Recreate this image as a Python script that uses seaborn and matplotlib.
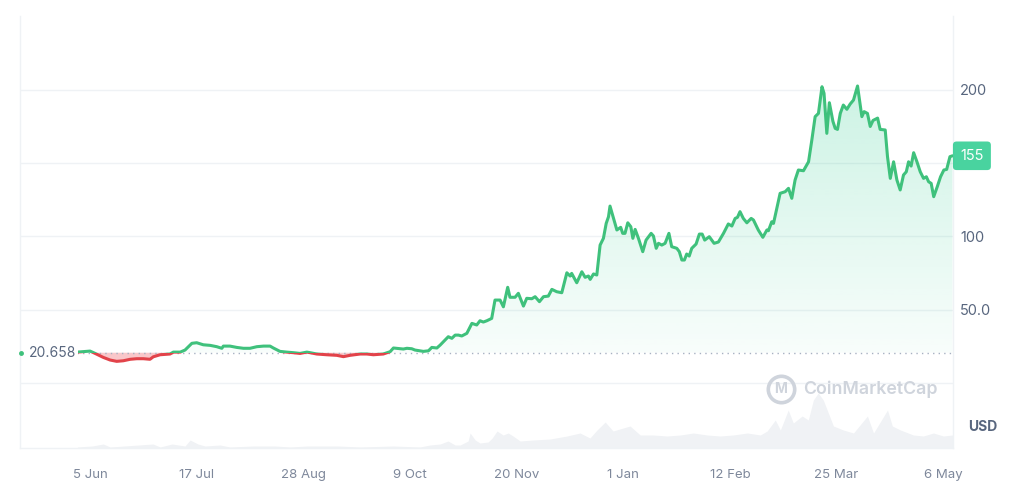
import numpy as np
import pandas as pd
import matplotlib
matplotlib.use("Agg")
import matplotlib.pyplot as plt
import matplotlib.dates as mdates
import matplotlib.transforms as mtransforms
from matplotlib.patches import Rectangle, PathPatch
import seaborn as sns

# ---------------- data ----------------
start_date = "2023-05-31"
baseline = 20.658
last_price = 155

# day offsets from start_date and prices, in four stretches
days_a = [0.0, 5.0, 7.0, 10.2, 12.9, 15.5, 18.1, 20.8, 23.4, 26.0,
          28.6, 29.9, 32.6, 36.5, 37.8, 40.5, 42.4, 45.1, 47.0, 49.6,
          52.3, 54.9, 56.9, 57.5, 60.1, 62.8, 65.4, 68.0, 70.7, 73.3,
          75.9, 77.2, 79.8, 82.5, 85.1, 87.7, 90.4, 91.7, 94.3, 98.2,
          102.2, 104.8, 107.4, 111.4, 114.0, 116.6, 120.5]
price_a = [21.1, 21.8, 20.2, 17.5, 15.7, 14.8, 15.2, 16.2, 16.6, 16.6,
           16.2, 17.9, 19.3, 19.8, 21.1, 21.1, 22.5, 27.1, 27.5, 26.1,
           25.7, 24.8, 23.7, 25.2, 25.2, 24.3, 23.7, 23.7, 24.8, 25.2,
           25.2, 23.9, 21.6, 21.1, 20.7, 20.2, 21.1, 20.7, 19.8, 19.3,
           18.9, 18.0, 18.9, 19.8, 19.8, 19.3, 19.8]

days_b = [123.2, 124.5, 128.4, 129.8, 131.7, 133.0, 135.0, 136.3, 138.3, 139.6,
          141.6, 142.9, 144.8, 146.1, 147.5, 148.8, 150.1, 151.4, 153.4, 155.4,
          157.3, 158.6, 159.9, 161.3, 163.2, 164.5, 166.5, 167.8, 169.5, 170.4,
          172.4, 173.7, 175.7, 177.0, 179.0, 180.3, 182.0, 183.6, 185.5, 186.9,
          188.8, 190.8, 192.8, 194.1, 194.7, 196.7, 198.7, 200.0, 201.3, 202.0,
          203.3, 204.6]
price_b = [21.4, 23.9, 23.2, 23.7, 23.4, 22.5, 22.0, 21.6, 22.0, 24.3,
           23.9, 25.9, 29.3, 31.6, 30.5, 32.7, 32.7, 32.1, 33.9, 40.7,
           39.6, 42.5, 41.6, 42.5, 44.1, 56.6, 56.6, 52.0, 65.3, 58.5,
           58.5, 61.2, 52.5, 57.8, 57.5, 58.9, 55.5, 58.9, 59.3, 63.9,
           62.3, 61.6, 75.2, 73.0, 74.8, 68.4, 75.9, 72.1, 73.0, 70.7,
           74.4, 73.7]

days_c = [205.9, 207.2, 208.3, 209.2, 209.8, 211.2, 212.5, 214.0, 214.8, 215.7,
          216.8, 218.0, 218.8, 219.7, 221.0, 222.7, 224.0, 226.0, 226.9, 228.0,
          228.9, 230.2, 231.5, 233.0, 234.1, 236.1, 237.1, 238.1, 239.1, 240.0,
          241.0, 242.0, 243.7, 245.0, 246.1, 247.1, 248.9, 250.8, 252.5, 254.5,
          256.4, 257.8, 259.1, 260.0, 261.0, 262.3, 263.7, 265.4, 266.3, 268.2,
          270.0, 271.6, 272.2, 273.5, 274.2, 275.5]
price_c = [94.1, 98.7, 108.9, 113.4, 120.7, 112.3, 104.4, 106.2, 102.1, 102.1,
           109.3, 106.6, 98.7, 104.8, 98.7, 89.6, 97.5, 102.1, 100.3, 91.9,
           95.3, 94.1, 95.3, 102.1, 93.0, 91.9, 89.6, 83.9, 83.9, 88.0,
           86.6, 91.9, 94.8, 101.6, 101.6, 97.5, 99.8, 95.3, 96.2, 102.1,
           108.5, 107.1, 112.3, 113.0, 116.9, 112.3, 109.3, 112.3, 111.2, 104.4,
           99.4, 104.4, 103.9, 110.0, 108.9, 119.2]

days_d = [276.8, 278.8, 280.1, 281.4, 282.7, 284.0, 286.0, 288.0, 289.3, 290.6,
          291.9, 292.6, 293.3, 294.1, 295.2, 296.2, 297.6, 298.5, 299.4, 300.5,
          301.7, 303.1, 304.4, 305.7, 307.3, 309.0, 309.9, 311.2, 312.3, 313.4,
          315.2, 316.2, 318.2, 319.1, 320.2, 321.5, 322.8, 324.1, 325.4, 326.5,
          327.4, 328.4, 329.4, 330.7, 332.0, 333.3, 334.4, 335.3, 336.3, 337.3,
          338.7, 340.0, 341.3, 342.4, 343.7, 344.7]
price_d = [129.4, 130.5, 132.8, 126.0, 138.5, 145.3, 144.8, 150.9, 165.8, 181.7,
           183.9, 193.0, 202.1, 197.6, 170.3, 191.2, 178.5, 173.7, 173.0, 183.9,
           189.6, 186.7, 190.3, 193.0, 202.6, 181.7, 185.1, 183.9, 175.0, 179.1,
           180.7, 173.0, 172.6, 154.4, 139.6, 150.9, 138.5, 131.7, 141.9, 144.1,
           150.9, 148.0, 157.1, 150.9, 144.1, 139.6, 140.7, 137.3, 136.2, 127.1,
           133.9, 140.7, 145.3, 145.7, 154.4, 155.0]

# volume (relative units)
vol_days = [0.0, 5.8, 10.2, 12.9, 29.8, 32.6, 37.3, 42.4, 44.4, 47.5,
            50.3, 56.2, 60.1, 69.2, 77.9, 83.8, 90.5, 102.7, 111.4, 124.4,
            134.9, 138.9, 142.9, 146.0, 148.8, 150.8, 153.9, 154.7, 156.7, 158.6,
            161.8, 163.4, 165.3, 167.7, 169.7, 171.6, 174.4, 179.5, 186.2, 192.9,
            198.0, 201.9, 204.7, 207.9, 211.0, 215.0, 217.7, 221.7, 226.8, 232.3,
            237.5, 242.6, 248.1, 253.2, 258.3, 263.9, 269.0, 271.7, 274.9, 276.9,
            280.0, 282.0, 285.5, 287.9, 289.9, 291.8, 293.8, 295.8, 297.8, 301.7,
            305.7, 311.2, 313.6, 319.1, 321.0, 324.2, 329.3, 333.2, 337.2, 341.1,
            344.7]
volumes = [1, 2, 4, 1, 4, 1, 4, 2, 8, 4,
           2, 3, 1, 2, 2, 1, 2, 2, 1, 2,
           1, 3, 4, 7, 3, 3, 7, 15, 8, 5,
           6, 10, 17, 13, 15, 12, 7, 8, 9, 12,
           15, 10, 18, 26, 17, 20, 22, 13, 13, 12,
           13, 15, 13, 12, 13, 15, 13, 17, 28, 18,
           38, 25, 32, 28, 48, 55, 48, 35, 22, 18,
           15, 32, 15, 38, 22, 18, 13, 12, 15, 12,
           13]

tick_dates = ["2023-06-05", "2023-07-17", "2023-08-28", "2023-10-09", "2023-11-20",
              "2024-01-01", "2024-02-12", "2024-03-25", "2024-05-06"]
tick_labels = ["5 Jun", "17 Jul", "28 Aug", "9 Oct", "20 Nov",
               "1 Jan", "12 Feb", "25 Mar", "6 May"]
y_ticks = [50, 100, 200]
y_tick_labels = ["50.0", "100", "200"]
grid_levels = [0, 50, 100, 150, 200]

# ---------------- build frame ----------------
t0 = pd.Timestamp(start_date)
days = days_a + days_b + days_c + days_d
prices = price_a + price_b + price_c + price_d
df = pd.DataFrame({"date": t0 + pd.to_timedelta(days, unit="D"), "price": prices})
vdf = pd.DataFrame({"date": t0 + pd.to_timedelta(vol_days, unit="D"), "volume": volumes})

GREEN = "#3fc17c"
RED = "#e2434a"
GRID = "#eff2f5"
TXT = "#58667e"

sns.set_theme(style="white")
plt.rcParams["font.family"] = ["Inter", "DejaVu Sans"]

fig = plt.figure(figsize=(10.24, 4.98), dpi=100)
fig.patch.set_facecolor("white")
ax = fig.add_axes([20 / 1024, 50 / 498, 933 / 1024, 431.5 / 498])
ax2 = ax.twinx()
ax.set_zorder(ax2.get_zorder() + 1)
ax.patch.set_visible(False)

x0 = mdates.date2num(t0)
xmin, xmax = x0 - 22.6, x0 + 344.9

# volume
ax2.fill_between(mdates.date2num(vdf["date"]), 0, vdf["volume"], color="#f0f2f5",
                 lw=0, zorder=1)
ax2.set_ylim(0, 431.5)
ax2.set_xlim(xmin, xmax)
ax2.set_yticks([])
for s in ax2.spines.values():
    s.set_visible(False)

# grid
for g in grid_levels:
    ax.axhline(g, color=GRID, lw=1, zorder=0)

xnum = mdates.date2num(df["date"])
yv = np.array(prices)

# green gradient fill above baseline
poly = ax.fill_between(xnum, yv, baseline, color="none", lw=0)
path = poly.get_paths()[0]
clip_patch = PathPatch(path, transform=ax.transData, facecolor="none", edgecolor="none")
ax.add_patch(clip_patch)
grad = np.linspace(0.22, 0.03, 256).reshape(-1, 1)
rgba = np.zeros((256, 1, 4))
rgba[..., 0], rgba[..., 1], rgba[..., 2] = 22 / 255, 199 / 255, 132 / 255
rgba[..., 3] = grad
im = ax.imshow(rgba, extent=[xmin, xmax, baseline, 205], origin="upper",
               aspect="auto", zorder=2, interpolation="bilinear")
im.set_clip_path(clip_patch)

# red fill below baseline
ax.fill_between(xnum, yv, baseline, where=yv < baseline, interpolate=True,
                color="#ea3943", alpha=0.28, lw=0, zorder=2)

# baseline dotted
ax.plot([xnum[0], xmax], [baseline, baseline], ls=(0, (1, 3)), color="#a7b1c2",
        lw=1, zorder=3)

# price line: green above, red below
sns.lineplot(data=df, x="date", y="price", color=GREEN, lw=2.2, ax=ax, zorder=4)
l_green = ax.lines[-1]
sns.lineplot(data=df, x="date", y="price", color=RED, lw=2.2, ax=ax, zorder=4)
l_red = ax.lines[-1]
r_up = Rectangle((xmin, baseline), xmax - xmin, 1000, transform=ax.transData)
r_dn = Rectangle((xmin, baseline - 1000), xmax - xmin, 1000, transform=ax.transData)
l_green.set_clip_path(r_up)
l_red.set_clip_path(r_dn)

ax.set_xlim(xmin, xmax)
ax.set_ylim(-44.3, 250)
ax.set_xlabel("")
ax.set_ylabel("")

# axes styling
ax.set_xticks(mdates.date2num(pd.to_datetime(tick_dates)))
ax.set_xticklabels(tick_labels, fontsize=9.5, color="#7e889b")
ax.tick_params(axis="x", length=0, pad=15)
ax.yaxis.tick_right()
ax.set_yticks(y_ticks)
ax.set_yticklabels(y_tick_labels, fontsize=10.5, color=TXT)
ax.tick_params(axis="y", length=0, pad=5)
for side in ["left", "right", "bottom"]:
    ax.spines[side].set_visible(True)
    ax.spines[side].set_color(GRID)
    ax.spines[side].set_linewidth(1)
ax.spines["top"].set_visible(False)

# baseline label and marker
bt = mtransforms.blended_transform_factory(ax.transAxes, ax.transData)
ax.plot([0.0015], [baseline], marker="o", ms=2.5, color=GREEN, transform=bt,
        zorder=6, clip_on=False)
ax.text(0.009, baseline, "20.658", transform=bt, ha="left", va="center",
        fontsize=10, color=TXT, zorder=6,
        bbox=dict(boxstyle="square,pad=0.15", fc="white", ec="none"))

# last price badge
ax.annotate(str(last_price), xy=(1.0, last_price), xycoords=bt,
            xytext=(5.2, 0), textcoords="offset points", ha="left", va="center",
            fontsize=10.5, color="white", annotation_clip=False, zorder=10,
            bbox=dict(boxstyle="round,pad=0.5,rounding_size=0.25",
                      fc="#16c784", ec="none", alpha=0.78))

# watermark
ax.plot([0.8156], [0.137], marker="o", ms=19, mfc="none", mec="#cfd4dc", mew=2.6,
        transform=ax.transAxes, zorder=5)
ax.text(0.8156, 0.137, "M", transform=ax.transAxes, ha="center", va="center",
        fontsize=10, fontweight="bold", color="#cfd4dc", zorder=5)
ax.text(0.8395, 0.137, "CoinMarketCap", transform=ax.transAxes, ha="left",
        va="center", fontsize=12.8, fontweight="semibold", color="#cfd4dc", zorder=5)

fig.text(983 / 1024, 1 - 427 / 498, "USD", ha="center", va="center",
         fontsize=10, fontweight="bold", color=TXT)

fig.savefig("out.png", dpi=100, facecolor="white")
